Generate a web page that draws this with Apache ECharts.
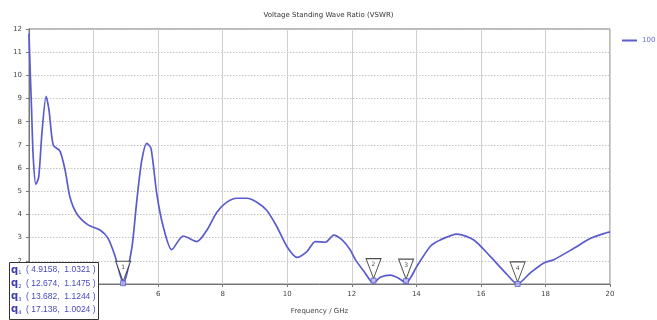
<!DOCTYPE html>
<html>
<head>
<meta charset="utf-8">
<script src="https://cdn.jsdelivr.net/npm/echarts@6/dist/echarts.min.js"></script>
<style>html,body{margin:0;padding:0;background:#fff}#c{width:657px;height:320px}</style>
</head>
<body>
<div id="c"></div>
<script>
const freq = [2.0,2.03,2.08,2.13,2.21,2.3,2.4,2.53,2.62,2.75,2.96,3.12,3.27,3.48,3.83,4.2,4.45,4.67,4.92,5.18,5.34,5.49,5.65,5.78,5.96,6.16,6.42,6.78,7.2,7.51,7.82,8.13,8.44,8.75,9.06,9.37,9.68,9.99,10.3,10.61,10.87,11.18,11.44,11.7,11.95,12.11,12.4,12.66,12.9,13.2,13.45,13.68,14.02,14.43,14.74,15.26,15.78,16.29,16.81,17.13,17.53,17.95,18.26,18.88,19.4,19.91,20.0];
const vswr = [11.8,10.5,8.5,6.5,5.3,5.6,7.5,9.1,8.5,7.0,6.73,5.9,4.74,4.03,3.55,3.33,2.97,2.19,1.03,2.5,4.6,6.3,7.07,6.85,4.88,3.47,2.48,3.07,2.83,3.32,4.1,4.53,4.7,4.7,4.53,4.17,3.47,2.62,2.15,2.4,2.83,2.8,3.11,2.9,2.48,2.05,1.5,1.05,1.3,1.38,1.25,1.05,1.77,2.62,2.9,3.15,2.9,2.19,1.41,1.0,1.48,1.91,2.05,2.54,2.97,3.22,3.25];
const markerFreq = [4.9158, 12.674, 13.682, 17.138];
const markerVswr = [1.0321, 1.1475, 1.1244, 1.0024];
const markerLabels = ['1','2','3','4'];
const seriesName = '100';
const xTicks = {min: 2, max: 20, interval: 2};
const yTicks = {min: 1, max: 12, interval: 1};

const lineColor = '#5b5bd0';
const fontFam = 'DejaVu Sans';
const chart = echarts.init(document.getElementById('c'), null, {renderer: 'canvas'});

const rows = markerFreq.map((f, i) => ({
  type: 'text',
  left: 11,
  top: 265 + i * 13.3,
  z: 101,
  style: {
    text: '{q|q}{s|' + markerLabels[i] + '}{t|  ( ' + f + ',  ' + markerVswr[i] + ' )}',
    rich: {
      q: {fontSize: 10, fontWeight: 'bold', fill: '#3a3ab8', fontFamily: fontFam},
      s: {fontSize: 5, fill: '#3a3ab8', fontFamily: fontFam, verticalAlign: 'bottom', padding: [6,0,0,0]},
      t: {fontSize: 8.5, fill: '#4a4ac0', fontFamily: 'Liberation Sans'}
    }
  }
}));

chart.setOption({
  animation: false,
  title: {
    text: 'Voltage Standing Wave Ratio (VSWR)',
    left: 'center', top: 7,
    textStyle: {fontSize: 7, fontWeight: 'normal', color: '#333', fontFamily: fontFam}
  },
  legend: {
    data: [seriesName],
    left: 617, top: 32,
    icon: 'rect', itemWidth: 15, itemHeight: 2, itemGap: 4,
    textStyle: {fontSize: 7, color: '#6a6ad0', fontFamily: fontFam}
  },
  grid: {left: 29, right: 47, top: 29, bottom: 32, show: true, borderColor: '#777', borderWidth: 1, containLabel: false},
  xAxis: {
    type: 'value', min: xTicks.min, max: xTicks.max, interval: xTicks.interval,
    name: 'Frequency / GHz', nameLocation: 'middle', nameGap: 24,
    nameTextStyle: {fontSize: 7, color: '#444', fontFamily: fontFam},
    axisLine: {lineStyle: {color: '#777'}},
    axisTick: {show: true, length: 3, lineStyle: {color: '#777'}},
    axisLabel: {fontSize: 7, color: '#444', margin: 7, fontFamily: fontFam},
    splitLine: {show: true, lineStyle: {color: '#cfcfcf', width: 1}}
  },
  yAxis: {
    type: 'value', min: yTicks.min, max: yTicks.max, interval: yTicks.interval,
    axisLine: {show: true, lineStyle: {color: '#777'}},
    axisTick: {show: true, length: 3, lineStyle: {color: '#777'}},
    axisLabel: {fontSize: 7, color: '#444', margin: 7, fontFamily: fontFam},
    splitLine: {show: true, lineStyle: {color: '#c4c4c4', type: [1.5, 1.5], width: 1}}
  },
  series: [
    {
      name: seriesName, type: 'line', showSymbol: false, smooth: 0.25,
      lineStyle: {color: lineColor, width: 1.7},
      itemStyle: {color: lineColor},
      data: freq.map((f, i) => [f, vswr[i]]),
      z: 3
    },
    {
      name: 'markers', type: 'scatter',
      symbol: 'path://M0,0 L16,0 L8,20 Z',
      symbolSize: [15, 20], symbolOffset: [0, -12],
      itemStyle: {color: '#fff', borderColor: '#222', borderWidth: 1},
      label: {show: true, position: 'inside', offset: [0, -4], fontSize: 6, color: '#222', fontFamily: fontFam,
        formatter: p => markerLabels[p.dataIndex]},
      data: markerFreq.map((f, i) => [f, markerVswr[i]]),
      z: 4
    },
    {
      name: 'pts', type: 'scatter', symbol: 'rect', symbolSize: 5,
      itemStyle: {color: '#b8b8ee', borderColor: lineColor, borderWidth: 1},
      data: markerFreq.map((f, i) => [f, markerVswr[i]]),
      z: 5
    }
  ],
  graphic: [
    {type: 'rect', left: 9, top: 262, z: 100,
      shape: {width: 89, height: 57},
      style: {fill: '#fff', stroke: '#333', lineWidth: 1}}
  ].concat(rows)
});
</script>
</body>
</html>
